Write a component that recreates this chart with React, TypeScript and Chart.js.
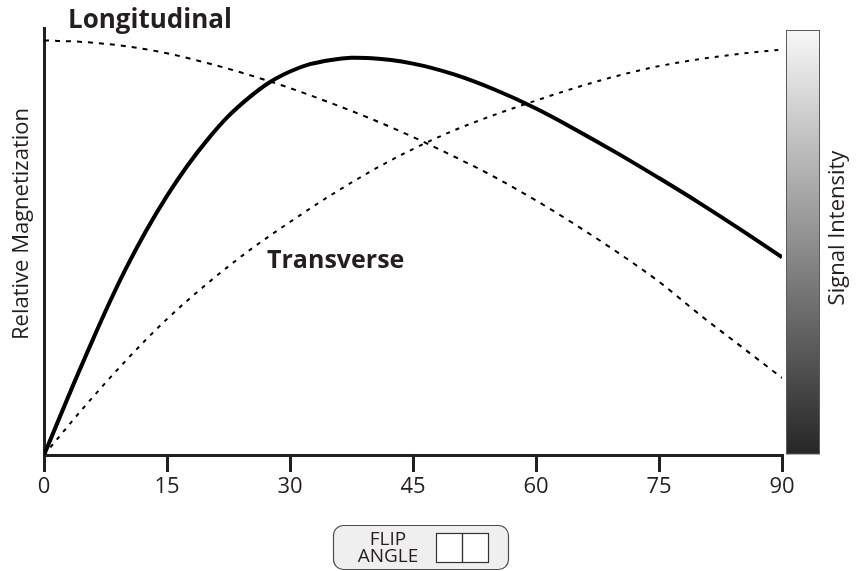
import React, { useEffect, useRef } from "react";
import { Chart, registerables } from "chart.js";

Chart.register(...registerables);

// Flip angle (degrees)
const angles = [0, 5, 10, 15, 20, 25, 30, 35, 40, 45, 50, 55, 60, 65, 70, 75, 80, 85, 90];
// Longitudinal magnetization (dashed)
const longitudinal = [1.0, 0.996, 0.986, 0.969, 0.945, 0.917, 0.885, 0.849, 0.81, 0.767, 0.72, 0.67, 0.614, 0.553, 0.488, 0.418, 0.338, 0.262, 0.186];
// Transverse magnetization (dotted)
const transverse = [0, 0.118, 0.228, 0.328, 0.415, 0.493, 0.562, 0.627, 0.686, 0.738, 0.783, 0.821, 0.855, 0.887, 0.915, 0.938, 0.955, 0.968, 0.978];
// Signal (solid)
const signal = [0, 0.235, 0.45, 0.625, 0.762, 0.862, 0.925, 0.953, 0.957, 0.944, 0.918, 0.881, 0.836, 0.783, 0.727, 0.668, 0.607, 0.543, 0.477];
// X tick labels
const xTicks = [0, 15, 30, 45, 60, 75, 90];

const labelLongitudinal = "Longitudinal";
const labelTransverse = "Transverse";
const yTitle = "Relative Magnetization";
const rightTitle = "Signal Intensity";
const flipLines = ["FLIP", "ANGLE"];

const INK = "#231f20";
const FONT = "'Open Sans', 'Noto Sans', sans-serif";

const overlayPlugin = {
  id: "overlay",
  afterDraw(chart: any) {
    const ctx: CanvasRenderingContext2D = chart.ctx;
    const { top, bottom, right } = chart.chartArea;
    const xs = chart.scales.x;
    const ys = chart.scales.y;
    ctx.save();

    // colour bar
    const bx = right + 4.5;
    const bw = 33;
    const by = top + 2.5;
    const bh = bottom - by - 1;
    const g = ctx.createLinearGradient(0, by, 0, by + bh);
    g.addColorStop(0, "#f7f7f7");
    g.addColorStop(1, "#262626");
    ctx.fillStyle = g;
    ctx.fillRect(bx, by, bw, bh);
    ctx.strokeStyle = "#5a5a5a";
    ctx.lineWidth = 1;
    ctx.strokeRect(bx, by, bw, bh);

    // curve labels
    ctx.fillStyle = INK;
    ctx.textAlign = "left";
    ctx.textBaseline = "alphabetic";
    ctx.font = `bold 26px ${FONT}`;
    ctx.fillText(labelLongitudinal, xs.getPixelForValue(0) + 24, top);
    ctx.font = `bold 25px ${FONT}`;
    ctx.fillText(labelTransverse, xs.getPixelForValue(27.2), ys.getPixelForValue(0.451));

    // axis titles
    ctx.font = `22px ${FONT}`;
    ctx.textAlign = "center";
    ctx.textBaseline = "middle";
    ctx.save();
    ctx.translate(22, 224);
    ctx.rotate(-Math.PI / 2);
    ctx.fillText(yTitle, 0, 0);
    ctx.restore();
    ctx.save();
    ctx.translate(838, 228);
    ctx.rotate(-Math.PI / 2);
    ctx.fillText(rightTitle, 0, 0);
    ctx.restore();

    // flip angle box
    const fx = 333.5, fy = 525.5, fw = 175, fh = 44, r = 10;
    ctx.beginPath();
    ctx.moveTo(fx + r, fy);
    ctx.arcTo(fx + fw, fy, fx + fw, fy + fh, r);
    ctx.arcTo(fx + fw, fy + fh, fx, fy + fh, r);
    ctx.arcTo(fx, fy + fh, fx, fy, r);
    ctx.arcTo(fx, fy, fx + fw, fy, r);
    ctx.closePath();
    ctx.fillStyle = "#efefef";
    ctx.fill();
    ctx.strokeStyle = "#4d4d4d";
    ctx.lineWidth = 1.2;
    ctx.stroke();

    ctx.fillStyle = INK;
    ctx.font = `19px ${FONT}`;
    ctx.textAlign = "center";
    ctx.textBaseline = "alphabetic";
    ctx.fillText(flipLines[0], 388, 545);
    ctx.fillText(flipLines[1], 388, 562);

    ctx.fillStyle = "#ffffff";
    ctx.fillRect(436.5, 533.5, 26, 29);
    ctx.fillRect(462.5, 533.5, 26, 29);
    ctx.strokeStyle = "#333333";
    ctx.lineWidth = 1.2;
    ctx.strokeRect(436.5, 533.5, 26, 29);
    ctx.strokeRect(462.5, 533.5, 26, 29);

    ctx.restore();
  },
};

export default function App() {
  const ref = useRef<HTMLCanvasElement | null>(null);

  useEffect(() => {
    if (!ref.current) return;
    const toPts = (arr: number[]) => angles.map((a, i) => ({ x: a, y: arr[i] }));
    const chart = new Chart(ref.current, {
      type: "line",
      data: {
        datasets: [
          {
            label: "Signal",
            data: toPts(signal),
            borderColor: "#000000",
            borderWidth: 4,
            pointRadius: 0,
            tension: 0.4,
            fill: false,
          },
          {
            label: "Longitudinal",
            data: toPts(longitudinal),
            borderColor: "#000000",
            borderWidth: 2,
            borderDash: [5, 6],
            pointRadius: 0,
            cubicInterpolationMode: "monotone",
            fill: false,
          },
          {
            label: "Transverse",
            data: toPts(transverse),
            borderColor: "#000000",
            borderWidth: 2,
            borderDash: [4, 6],
            pointRadius: 0,
            cubicInterpolationMode: "monotone",
            fill: false,
          },
        ],
      },
      options: {
        responsive: false,
        animation: false,
        layout: { padding: { left: 0, top: 28, right: 74, bottom: 0 } },
        plugins: {
          legend: { display: false },
          tooltip: { enabled: false },
        },
        scales: {
          x: {
            type: "linear",
            min: 0,
            max: 90,
            afterBuildTicks: (scale: any) => {
              scale.ticks = xTicks.map((v) => ({ value: v }));
            },
            afterFit: (scale: any) => {
              scale.height = 116;
            },
            ticks: {
              color: INK,
              font: { family: FONT, size: 22 },
              padding: 2,
              maxRotation: 0,
              autoSkip: false,
            },
            grid: {
              drawOnChartArea: false,
              drawTicks: true,
              tickLength: 17,
              lineWidth: 3,
              color: INK,
            },
            border: { display: true, width: 3, color: INK },
          },
          y: {
            type: "linear",
            min: 0,
            max: 1.03,
            afterFit: (scale: any) => {
              scale.width = 44;
            },
            ticks: { display: false },
            grid: { display: false, drawTicks: false },
            border: { display: true, width: 3, color: INK },
          },
        },
      },
      plugins: [overlayPlugin],
    });
    return () => chart.destroy();
  }, []);

  return (
    <div style={{ position: "absolute", left: 0, top: 0, width: 856, height: 571, background: "#ffffff" }}>
      <canvas ref={ref} width={856} height={571} />
    </div>
  );
}
